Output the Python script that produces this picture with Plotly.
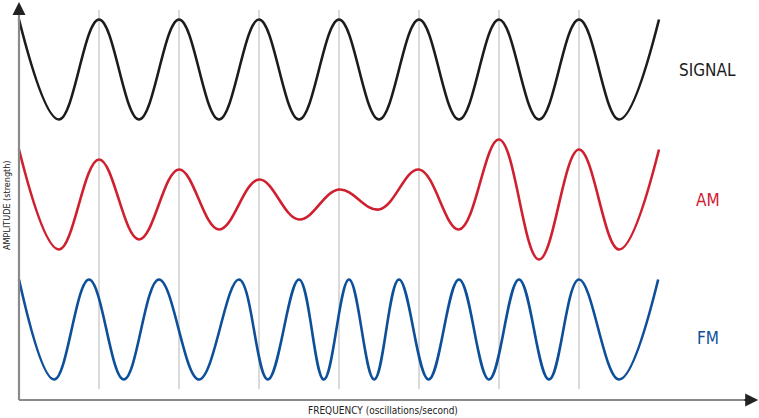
import plotly.graph_objects as go

# time of each peak / trough (1 unit = one gridline spacing)
signal_t = [0, 0.5, 1, 1.5, 2, 2.5, 3, 3.5, 4, 4.5, 5, 5.5, 6, 6.5, 7, 7.5, 8]
signal_amp = [1, -1, 1, -1, 1, -1, 1, -1, 1, -1, 1, -1, 1, -1, 1, -1, 1]

am_t = [0, 0.5, 1, 1.5, 2, 2.5, 3, 3.5, 4, 4.5, 5, 5.5, 6, 6.5, 7, 7.5, 8]
am_amp = [1.0, -1.0, 0.8, -0.8, 0.6, -0.6, 0.4, -0.4, 0.2, -0.2,
          0.6, -0.6, 1.2, -1.2, 1.0, -1.0, 1.0]

fm_t = [0, 0.44, 0.875, 1.31, 1.75, 2.25, 2.75, 3.11, 3.5, 3.81, 4.125,
        4.44, 4.75, 5.12, 5.5, 5.875, 6.25, 6.625, 7.0, 7.5, 7.99]
fm_amp = [1, -1, 1, -1, 1, -1, 1, -1, 1, -1, 1,
          -1, 1, -1, 1, -1, 1, -1, 1, -1, 1]

labels = ["SIGNAL", "AM", "FM"]
offsets = [2.6, 0, -2.6]
label_y = [2.59, -0.01, -2.77]
colors = ["#1c1c1c", "#cf2030", "#0e4f9a"]

font = "Liberation Sans Narrow, DejaVu Sans Condensed, Roboto, sans-serif"

fig = go.Figure()
series = [(signal_t, signal_amp), (am_t, am_amp), (fm_t, fm_amp)]
for (t, a), off, col, name in zip(series, offsets, colors, labels):
    fig.add_trace(go.Scatter(
        x=t, y=[v + off for v in a], mode="lines", name=name,
        line=dict(color=col, width=2.6, shape="spline", smoothing=1.1),
        hoverinfo="skip"))

# vertical guide lines
for g in range(1, 8):
    fig.add_shape(type="line", x0=g, x1=g, y0=-3.79, y1=3.79,
                  line=dict(color="#b4b4b4", width=1), layer="below")

# axes
fig.add_shape(type="line", x0=0, x1=9.2, y0=-4.01, y1=-4.01,
              line=dict(color="#8a8a8a", width=2.2))
fig.add_shape(type="line", x0=0, x1=0, y0=-4.01, y1=3.85,
              line=dict(color="#8a8a8a", width=2.2))
fig.add_annotation(x=9.24, y=-4.01, ax=9.05, ay=-4.01, xref="x", yref="y",
                   axref="x", ayref="y", text="", showarrow=True,
                   arrowhead=2, arrowsize=1.3, arrowwidth=2, arrowcolor="#222")
fig.add_annotation(x=0, y=3.95, ax=0, ay=3.7, xref="x", yref="y",
                   axref="x", ayref="y", text="", showarrow=True,
                   arrowhead=2, arrowsize=1.3, arrowwidth=2, arrowcolor="#222")

for name, ly, col in zip(labels, label_y, colors):
    fig.add_annotation(x=8.61, y=ly, xref="x", yref="y", text=name,
                       showarrow=False, font=dict(family=font, size=17, color=col))

fig.add_annotation(x=4.55, y=-4.21, xref="x", yref="y",
                   text="FREQUENCY (oscillations/second)", showarrow=False,
                   font=dict(family=font, size=10, color="#222"))
fig.add_annotation(x=-0.15, y=-0.11, xref="x", yref="y",
                   text="AMPLITUDE (strength)", showarrow=False, textangle=-90,
                   font=dict(family=font, size=9, color="#222"))

fig.update_xaxes(range=[-0.2375, 9.25], visible=False)
fig.update_yaxes(range=[-4.37, 3.99], visible=False)
fig.update_layout(width=759, height=418, margin=dict(l=0, r=0, t=0, b=0),
                  plot_bgcolor="white", paper_bgcolor="white", showlegend=False)

# drop the page's default body margin so the chart sits at the window corner
fig.write_html("out.html", config={"displayModeBar": False},
               post_script="document.body.style.margin='0px';")
